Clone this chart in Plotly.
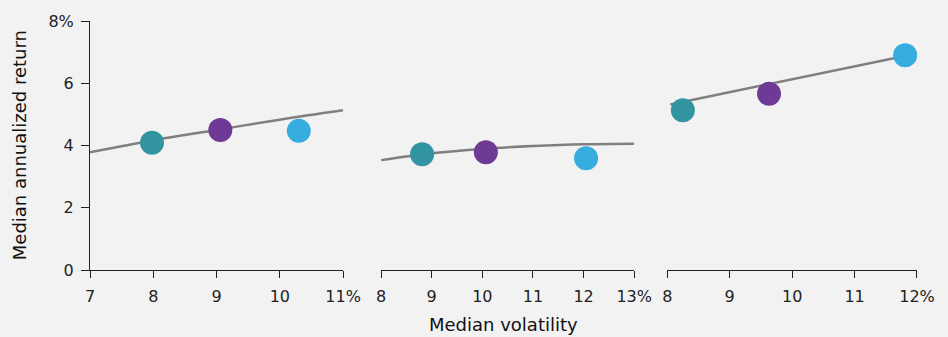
import plotly.graph_objects as go
from plotly.subplots import make_subplots

# points per panel: teal, purple, blue
vol_1 = [7.98, 9.06, 10.30]
ret_1 = [4.09, 4.50, 4.47]
vol_2 = [8.81, 10.07, 12.05]
ret_2 = [3.72, 3.78, 3.59]
vol_3 = [8.25, 9.63, 11.81]
ret_3 = [5.13, 5.66, 6.90]

# trend lines
trend_x_1 = [7.0, 8.0, 9.0, 10.0, 11.0]
trend_y_1 = [3.78, 4.17, 4.50, 4.83, 5.13]
trend_x_2 = [8.0, 9.0, 10.0, 11.0, 12.0, 13.0]
trend_y_2 = [3.53, 3.75, 3.89, 3.98, 4.04, 4.06]
trend_x_3 = [8.05, 12.0]
trend_y_3 = [5.32, 6.96]

x_ranges = [[7, 11], [8, 13], [8, 12]]
x_ticks_1 = ["7", "8", "9", "10", "11%"]
x_ticks_2 = ["8", "9", "10", "11", "12", "13%"]
x_ticks_3 = ["8", "9", "10", "11", "12%"]
y_vals = [0, 2, 4, 6, 8]
y_ticks = ["0", "2", "4", "6", "8%"]

dot_colors = ['rgba(51,148,161,1)', 'rgba(111,58,150,1)', 'rgba(54,172,223,1)']
line_col = 'rgba(127,127,127,1)'
bg = '#f2f2f2'
font_fam = "DejaVu Sans, Verdana, sans-serif"

fig = make_subplots(rows=1, cols=3, shared_yaxes=True)

panels = [(vol_1, ret_1, trend_x_1, trend_y_1, x_ticks_1),
          (vol_2, ret_2, trend_x_2, trend_y_2, x_ticks_2),
          (vol_3, ret_3, trend_x_3, trend_y_3, x_ticks_3)]
domains = [[0.0, 0.306], [0.352, 0.658], [0.698, 1.0]]

for i, (vx, vy, tx, ty, tt) in enumerate(panels):
    col = i + 1
    fig.add_trace(go.Scatter(x=tx, y=ty, mode='lines', line_shape='spline',
                             line=dict(color=line_col, width=2.5),
                             showlegend=False, hoverinfo='skip'), row=1, col=col)
    fig.add_trace(go.Scatter(x=vx, y=vy, mode='markers',
                             marker=dict(color=dot_colors, size=24),
                             cliponaxis=False, showlegend=False), row=1, col=col)
    lo, hi = x_ranges[i]
    fig.update_xaxes(range=[lo, hi], domain=domains[i],
                     tickvals=list(range(lo, hi + 1)), ticktext=tt,
                     showline=True, linecolor='#222', linewidth=1,
                     ticks='outside', ticklen=7, tickcolor='#222',
                     ticklabelstandoff=5,
                     showgrid=False, zeroline=False,
                     tickfont=dict(size=16, color='#222', family=font_fam),
                     row=1, col=col)
    fig.update_yaxes(range=[0, 8], showgrid=False, zeroline=False,
                     row=1, col=col)

fig.update_yaxes(tickvals=y_vals, ticktext=y_ticks, showline=True,
                 linecolor='#222', linewidth=1, ticks='outside', ticklen=8,
                 tickcolor='#222', ticklabelstandoff=4,
                 tickfont=dict(size=16, color='#222', family=font_fam),
                 row=1, col=1)
fig.update_yaxes(showticklabels=False, showline=False, ticks='', row=1, col=2)
fig.update_yaxes(showticklabels=False, showline=False, ticks='', row=1, col=3)

fig.add_annotation(text='Median annualized return', xref='paper', yref='paper',
                   x=-0.085, y=0.5, xanchor='center', yanchor='middle',
                   textangle=-90, showarrow=False,
                   font=dict(size=18, color='#111', family=font_fam))
fig.add_annotation(text='Median volatility', xref='paper', yref='paper',
                   x=0.5, y=-0.22, yanchor='middle', showarrow=False,
                   font=dict(size=18, color='#111', family=font_fam))

fig.update_layout(width=948, height=337, paper_bgcolor=bg, plot_bgcolor=bg,
                  margin=dict(l=90, r=31, t=16, b=67), showlegend=False)

fig.write_html("out.html", config={'displayModeBar': False},
               post_script="document.body.style.margin='0';"
                           "document.body.style.background='#f2f2f2';")
